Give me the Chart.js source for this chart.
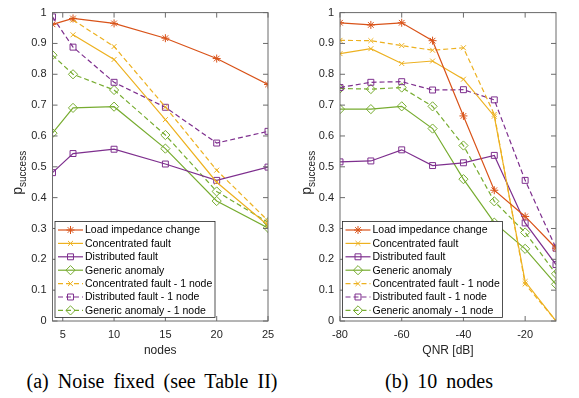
<!DOCTYPE html>
<html>
<head>
<meta charset="utf-8">
<script src="https://cdn.jsdelivr.net/npm/chart.js@4/dist/chart.umd.min.js"></script>
<style>
  body { margin: 0; background: #fff; }
  #wrap { position: relative; width: 579px; height: 398px; overflow: hidden; }
  .panel { position: absolute; top: 0; height: 362px; }
  .cap { position: absolute; top: 370px; font-family: "Liberation Serif", serif; font-size: 20px;
         line-height: 22px; word-spacing: 4px; text-align: center; color: #000; white-space: nowrap; }
</style>
</head>
<body>
<div id="wrap">
  <div class="panel" style="left:0;width:290px"><canvas id="left" width="290" height="362"></canvas></div>
  <div class="panel" style="left:290px;width:289px"><canvas id="right" width="289" height="362"></canvas></div>
  <div class="cap" style="left:0;width:304px">(a) Noise fixed (see Table II)</div>
  <div class="cap" style="left:290px;width:298px">(b) 10 nodes</div>
</div>
<script>
// legend labels
const seriesNames = [
  'Load impedance change',
  'Concentrated fault',
  'Distributed fault',
  'Generic anomaly',
  'Concentrated fault - 1 node',
  'Distributed fault - 1 node',
  'Generic anomaly - 1 node'
];

// (a) noise fixed, x = nodes
const nodes = [4, 6, 10, 15, 20, 25];
const nodeTicks = [5, 10, 15, 20, 25];
const loadA  = [0.962, 0.981, 0.965, 0.917, 0.851, 0.767];
const concA  = [null, 0.928, 0.848, 0.653, 0.450, 0.310];
const distA  = [0.481, 0.543, 0.557, 0.509, 0.456, 0.499];
const genA   = [0.609, 0.691, 0.695, 0.559, 0.389, 0.302];
const conc1A = [null, 0.976, 0.890, 0.694, 0.489, 0.325];
const dist1A = [0.986, 0.888, 0.774, 0.693, 0.577, 0.615];
const gen1A  = [0.862, 0.800, 0.749, 0.603, 0.420, 0.320];

// (b) 10 nodes, x = QNR [dB]
const qnr = [-80, -70, -60, -50, -40, -30, -20, -10];
const qnrTicks = [-80, -60, -40, -20];
const loadB  = [0.967, 0.960, 0.967, 0.909, 0.665, 0.424, 0.339, 0.236];
const concB  = [0.867, 0.883, 0.835, 0.843, 0.784, 0.664, 0.128, 0.000];
const distB  = [0.516, 0.519, 0.555, 0.504, 0.513, 0.537, 0.318, 0.183];
const genB   = [0.687, 0.687, 0.696, 0.624, 0.460, 0.319, 0.234, 0.119];
const conc1B = [0.910, 0.909, 0.893, 0.878, 0.886, 0.670, 0.120, 0.000];
const dist1B = [0.757, 0.774, 0.776, 0.749, 0.750, 0.717, 0.456, 0.236];
const gen1B  = [0.754, 0.752, 0.757, 0.696, 0.569, 0.388, 0.287, 0.153];

const pTicks = [0, 0.1, 0.2, 0.3, 0.4, 0.5, 0.6, 0.7, 0.8, 0.9, 1];

// matlab default colours
const looks = [
  { color: '#D95319', dash: [], point: 'star', r: 4 },
  { color: '#EDB120', dash: [], point: 'crossRot', r: 3.5 },
  { color: '#7E2F8E', dash: [], point: 'rect', r: 4.2 },
  { color: '#77AC30', dash: [], point: 'rectRot', r: 4.6 },
  { color: '#EDB120', dash: [5, 3], point: 'crossRot', r: 3.5 },
  { color: '#7E2F8E', dash: [5, 3], point: 'rect', r: 4.2 },
  { color: '#77AC30', dash: [5, 3], point: 'rectRot', r: 4.6 }
];

function makeSets(xs, rows) {
  return rows.map((vals, i) => ({
    label: seriesNames[i],
    data: xs.map((x, j) => ({ x: x, y: vals[j] })),
    borderColor: looks[i].color,
    borderWidth: 1.2,
    borderDash: looks[i].dash,
    pointStyle: looks[i].point,
    pointRadius: looks[i].r,
    pointBorderWidth: 1,
    pointBorderColor: looks[i].color,
    pointBackgroundColor: 'rgba(0,0,0,0)',
    spanGaps: false,
    tension: 0
  }));
}

const AX = '#6b6b6b';
const FONT = '"Liberation Sans", Arial, sans-serif';

// box, inward ticks, axis titles and an inside legend
const matlabLook = {
  id: 'matlabLook',
  afterDatasetsDraw(chart, args, o) {
    const { ctx, chartArea: a, scales: { x, y } } = chart;
    ctx.save();
    ctx.strokeStyle = AX;
    ctx.lineWidth = 1;
    ctx.setLineDash([]);
    ctx.strokeRect(a.left, a.top, a.width, a.height);
    ctx.beginPath();
    o.xTicks.forEach(v => {
      const px = x.getPixelForValue(v);
      ctx.moveTo(px, a.bottom); ctx.lineTo(px, a.bottom - 5);
      ctx.moveTo(px, a.top); ctx.lineTo(px, a.top + 5);
    });
    pTicks.forEach(v => {
      const py = y.getPixelForValue(v);
      ctx.moveTo(a.left, py); ctx.lineTo(a.left + 5, py);
      ctx.moveTo(a.right, py); ctx.lineTo(a.right - 5, py);
    });
    ctx.stroke();

    // x title
    ctx.fillStyle = '#262626';
    ctx.font = '12px ' + FONT;
    ctx.textAlign = 'center';
    ctx.textBaseline = 'middle';
    ctx.fillText(o.xTitle, (a.left + a.right) / 2, a.bottom + 30);

    // y title: p with subscript
    ctx.save();
    ctx.translate(o.yTitleX, (a.top + a.bottom) / 2 + 6);
    ctx.rotate(-Math.PI / 2);
    ctx.textAlign = 'left';
    ctx.textBaseline = 'alphabetic';
    ctx.font = '14px ' + FONT;
    const wp = ctx.measureText('p').width;
    ctx.font = '10px ' + FONT;
    const ws = ctx.measureText('success').width;
    const s0 = -(wp + ws) / 2;
    ctx.font = '14px ' + FONT;
    ctx.fillText('p', s0, 0);
    ctx.font = '10px ' + FONT;
    ctx.fillText('success', s0 + wp, 4);
    ctx.restore();

    // legend
    const bx = a.left + 2.5, bw = 160, bh = 96, by = a.bottom - 3.5 - bh;
    ctx.fillStyle = '#fff';
    ctx.fillRect(bx, by, bw, bh);
    ctx.strokeStyle = '#262626';
    ctx.lineWidth = 0.8;
    ctx.strokeRect(bx, by, bw, bh);
    chart.data.datasets.forEach((ds, i) => {
      const cy = by + 8.5 + i * 13.4;
      ctx.strokeStyle = ds.borderColor;
      ctx.lineWidth = 1.2;
      ctx.setLineDash(ds.borderDash);
      ctx.beginPath();
      ctx.moveTo(bx + 3, cy); ctx.lineTo(bx + 28, cy);
      ctx.stroke();
      ctx.setLineDash([]);
      ctx.lineWidth = 1;
      ctx.fillStyle = 'rgba(0,0,0,0)';
      Chart.helpers.drawPoint(ctx, { pointStyle: ds.pointStyle, radius: ds.pointRadius, borderWidth: 1, rotation: 0 }, bx + 15.5, cy);
      ctx.fillStyle = '#000';
      ctx.font = '10.5px ' + FONT;
      ctx.textAlign = 'left';
      ctx.textBaseline = 'middle';
      ctx.fillText(ds.label, bx + 30, cy + 0.5);
    });
    ctx.restore();
  }
};

function draw(id, xs, rows, xMin, xMax, xTicks, xTitle, yWidth, padRight, yTitleX) {
  return new Chart(document.getElementById(id), {
    type: 'line',
    data: { datasets: makeSets(xs, rows) },
    options: {
      responsive: false,
      animation: false,
      layout: { padding: { left: 0, right: padRight, top: 7.5, bottom: 0 } },
      plugins: {
        legend: { display: false },
        tooltip: { enabled: false },
        matlabLook: { xTicks: xTicks, xTitle: xTitle, yTitleX: yTitleX }
      },
      scales: {
        x: {
          type: 'linear', min: xMin, max: xMax,
          grid: { display: false, drawTicks: false },
          border: { display: false },
          afterBuildTicks: s => { s.ticks = xTicks.map(v => ({ value: v })); },
          afterFit: s => { s.height = 41; },
          ticks: { autoSkip: false, maxRotation: 0, padding: 7, color: '#262626',
                   font: { family: FONT, size: 11 } }
        },
        y: {
          min: 0, max: 1,
          grid: { display: false, drawTicks: false },
          border: { display: false },
          afterBuildTicks: s => { s.ticks = pTicks.map(v => ({ value: v })); },
          afterFit: s => { s.width = yWidth; },
          ticks: { autoSkip: false, padding: 6, color: '#262626',
                   font: { family: FONT, size: 11 }, callback: v => String(v) }
        }
      }
    },
    plugins: [matlabLook]
  });
}

draw('left', nodes, [loadA, concA, distA, genA, conc1A, dist1A, gen1A],
     4, 25, nodeTicks, 'nodes', 52.5, 22, 22);
draw('right', qnr, [loadB, concB, distB, genB, conc1B, dist1B, gen1B],
     -80, -10, qnrTicks, 'QNR [dB]', 50, 23, 21);
</script>
</body>
</html>
